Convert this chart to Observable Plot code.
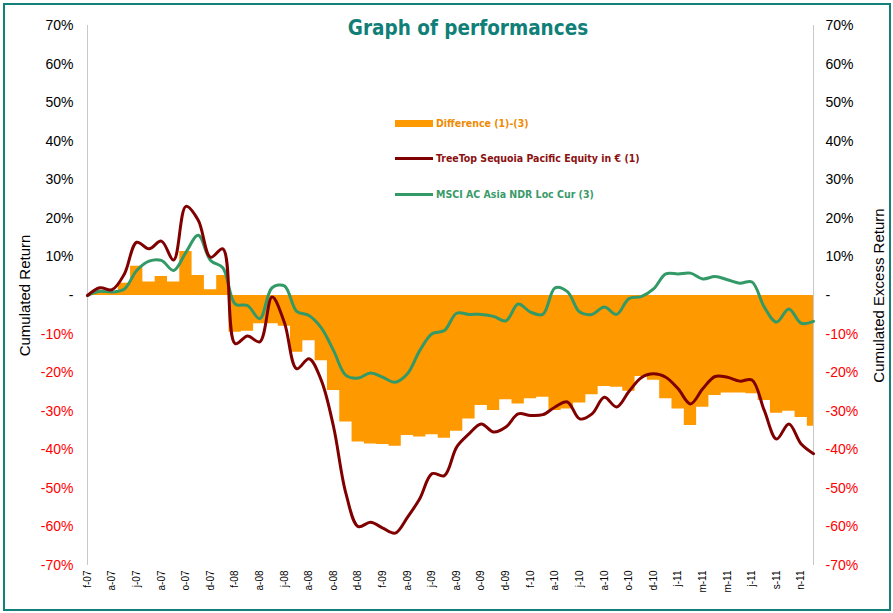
<!DOCTYPE html>
<html>
<head>
<meta charset="utf-8">
<script src="https://cdn.jsdelivr.net/npm/d3@7"></script>
<script src="https://cdn.jsdelivr.net/npm/@observablehq/plot@0.6"></script>
<style>
  body { margin: 0; background: #fff; }
  #wrap { position: relative; width: 893px; height: 613px; overflow: hidden; font-family: "Liberation Sans", Arial, sans-serif; }
  #chart { position: absolute; left: 0; top: 0; }
  #frame { position: absolute; left: 3px; top: 3px; width: 888px; height: 608px; box-sizing: border-box; border: 2.5px solid #13807a; pointer-events: none; }
  #title { position: absolute; left: 268px; top: 16px; width: 400px; text-align: center; font-family: "DejaVu Sans Condensed", "DejaVu Sans", sans-serif; font-stretch: condensed; font-weight: bold; font-size: 20.5px; color: #0f7f78; }
  .leg { position: absolute; left: 395px; height: 18px; display: flex; align-items: center; font-family: "DejaVu Sans Condensed", "DejaVu Sans", sans-serif; font-stretch: condensed; font-weight: bold; font-size: 10.5px; white-space: nowrap; }
  .sw { width: 38px; margin-right: 3px; }
</style>
</head>
<body>
<div id="wrap">
  <div id="chart"></div>
  <div id="title">Graph of performances</div>
  <div class="leg" style="top:114px;color:#f08a00"><span class="sw" style="height:7px;background:#ff9900"></span>Difference (1)-(3)</div>
  <div class="leg" style="top:149px;color:#8b1111"><span class="sw" style="height:3px;background:#800000"></span>TreeTop Sequoia Pacific Equity in € (1)</div>
  <div class="leg" style="top:185px;color:#3a9a6a"><span class="sw" style="height:3px;background:#339966"></span>MSCI AC Asia NDR Loc Cur (3)</div>
  <div id="frame"></div>
</div>
<script>
const tickLabels = ["f-07","a-07","j-07","a-07","o-07","d-07","f-08","a-08","j-08","a-08","o-08","d-08","f-09","a-09","j-09","a-09","o-09","d-09","f-10","a-10","j-10","a-10","o-10","d-10","j-11","m-11","m-11","j-11","s-11","n-11"];

const treeTop = [0, 2.0, 1.5, 5.6, 13.8, 12.1, 14.1, 9.2, 23.1, 19.5,
  9.9, 12.1, -12.5, -10.5, -12.0, -0.4, -7.0, -19.0, -16.4, -22.0,
  -34.1, -51.3, -59.9, -58.8, -60.3, -61.6, -57.5, -52.7, -46.2, -46.7,
  -39.3, -35.9, -33.3, -35.4, -34.1, -30.7, -31.1, -30.9, -28.9, -27.6,
  -32.0, -30.7, -26.4, -28.9, -24.9, -21.3, -20.3, -21.2, -24.2, -28.1,
  -24.2, -21.0, -21.2, -22.2, -21.9, -29.8, -37.2, -33.3, -38.5, -41.0];

const msci = [0, 1.1, 0.9, 1.7, 6.5, 8.9, 9.1, 6.5, 11.2, 15.6,
  9.1, 7.2, -2.2, -2.6, -6.0, 2.0, 2.5, -4.1, -5.2, -8.4,
  -14.3, -20.7, -21.4, -20.1, -21.2, -22.5, -20.3, -14.3, -9.9, -9.1,
  -4.6, -4.9, -4.9, -5.4, -6.6, -2.2, -4.3, -4.9, 2.0, 1.0,
  -4.3, -4.9, -3.0, -4.9, -0.8, -0.3, 1.7, 5.6, 5.6, 5.8,
  4.3, 4.9, 4.1, 3.2, 3.5, -3.0, -6.9, -3.5, -7.2, -6.7];

const difference = [0.5, 0.9, 0.9, 3.2, 7.6, 3.5, 4.9, 3.5, 11.4, 5.2,
  1.5, 5.2, -9.5, -9.3, -7.3, -7.3, -8.0, -14.7, -11.7, -16.9,
  -24.6, -32.8, -38.0, -38.5, -38.6, -39.1, -36.3, -36.7, -36.1, -37.0,
  -35.2, -32.0, -28.5, -29.8, -27.0, -28.1, -26.8, -26.4, -29.8, -29.4,
  -27.9, -25.7, -23.6, -23.8, -24.8, -21.0, -22.0, -26.8, -29.4, -33.7,
  -29.0, -25.9, -25.3, -25.3, -25.5, -27.2, -30.5, -30.0, -31.6, -33.9];

const posTicks = [70, 60, 50, 40, 30, 20, 10, 0];
const negTicks = [-10, -20, -30, -40, -50, -60, -70];

const rows = treeTop.map((v, i) => ({i, treeTop: v, msci: msci[i], diff: difference[i]}));
const last = rows.length - 1;
const fmt = v => v === 0 ? "-" : v + "%";

const chart = Plot.plot({
  width: 893,
  height: 613,
  marginTop: 25,
  marginBottom: 48,
  marginLeft: 87,
  marginRight: 80,
  style: {fontFamily: "'Liberation Sans', Arial, sans-serif", background: "transparent", color: "#000"},
  x: {type: "linear", domain: [0, last], axis: null},
  y: {domain: [-70, 70], axis: null},
  marks: [
    // full-width month bars (no gaps), stepping at the midpoints between months
    Plot.areaY(rows, {x: "i", y1: 0, y2: "diff", curve: "step", fill: "#ff9900"}),
    Plot.ruleX([0, last], {stroke: "#c8c8c8", strokeWidth: 1}),
    Plot.line(rows, {x: "i", y: "msci", stroke: "#339966", strokeWidth: 3, curve: "catmull-rom"}),
    Plot.line(rows, {x: "i", y: "treeTop", stroke: "#800000", strokeWidth: 3, curve: "catmull-rom"}),
    Plot.axisX(d3.range(0, rows.length, 2), {tickFormat: i => tickLabels[i / 2], tickRotate: -90, tickSize: 0, tickPadding: 5, fontSize: 10, label: null}),
    Plot.axisY(posTicks, {anchor: "left", tickSize: 0, tickPadding: 14, tickFormat: fmt, fontSize: 14, label: "Cumulated Return", labelAnchor: "center", labelArrow: "none", labelOffset: 68}),
    Plot.axisY(negTicks, {anchor: "left", tickSize: 0, tickPadding: 14, tickFormat: fmt, fontSize: 14, fill: "#ff0000", label: null}),
    Plot.axisY(posTicks, {anchor: "right", tickSize: 0, tickPadding: 12, tickFormat: fmt, fontSize: 14, label: "Cumulated Excess Return", labelAnchor: "center", labelArrow: "none", labelOffset: 70}),
    Plot.axisY(negTicks, {anchor: "right", tickSize: 0, tickPadding: 12, tickFormat: fmt, fontSize: 14, fill: "#ff0000", label: null})
  ]
});
// axis titles slightly larger than tick labels, as in the reference
chart.querySelectorAll("g[aria-label='y-axis label'] text").forEach(t => t.setAttribute("font-size", 15));
document.getElementById("chart").appendChild(chart);
</script>
</body>
</html>
